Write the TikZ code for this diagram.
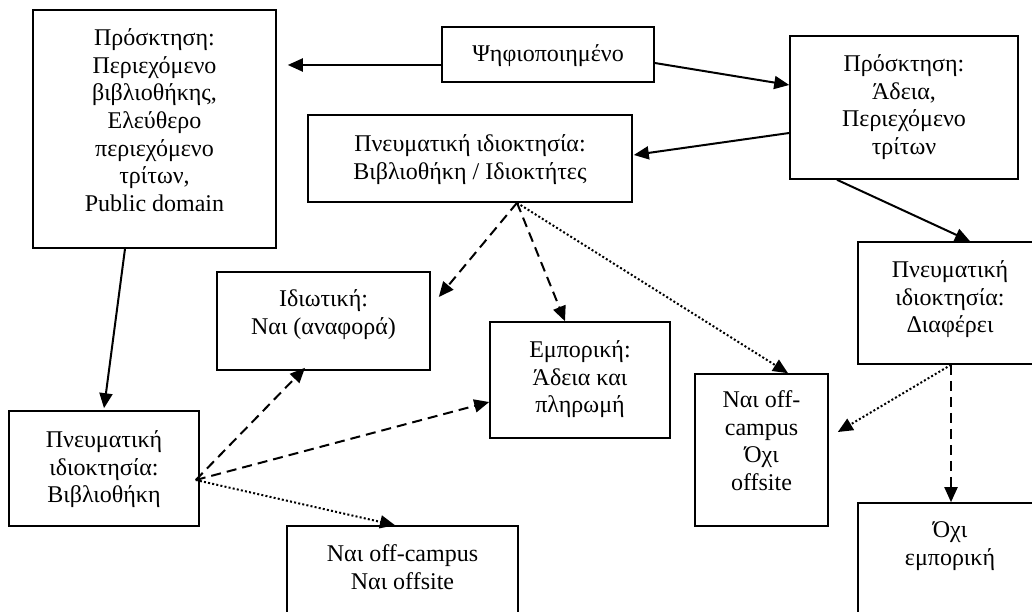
\documentclass[tikz,border=0pt]{standalone}
\usepackage{fontspec}
\setmainfont{Liberation Serif}
\usetikzlibrary{arrows.meta}
\tikzset{
  box/.style={draw, line width=1.6pt, rectangle, inner sep=0pt},
  txt/.style={anchor=north, align=center, inner sep=0pt, font=\fontsize{24pt}{27.6pt}\selectfont},
  conn/.style={line width=2pt, -{Triangle[length=15pt,width=13pt]}},
  dsh/.style={conn, dash pattern=on 10pt off 6pt},
  dot/.style={conn, dash pattern=on 2pt off 2.2pt}
}
\newcommand{\mybox}[5]{% name, x1, y1, x2, y2
  \node[box, minimum width={(#4-#2)*1pt}, minimum height={(#5-#3)*1pt}] (#1) at ({(#2+#4)/2},{(#3+#5)/2}) {};}
\begin{document}
\begin{tikzpicture}[x=1pt,y=-1pt]
\useasboundingbox (0,0) rectangle (1032,612);
\clip (0,0) rectangle (1032,612);
\fill[white] (0,0) rectangle (1032,612);
% boxes
\mybox{A}{33}{10}{276}{248}
\mybox{psi}{442}{27}{654}{82}
\mybox{R}{790}{36}{1018}{179}
\mybox{B}{308}{115}{632}{202}
\mybox{idio}{217}{272}{430}{370}
\mybox{emp}{490}{322}{670}{438}
\mybox{noff}{695}{374}{828}{526}
\mybox{diaf}{858}{242}{1042}{364}
\mybox{ochi}{858}{503}{1042}{660}
\mybox{LB}{9}{411}{199}{526}
\mybox{nai}{287}{526}{518}{660}
% texts
\node[txt] (At) at ([yshift=-17pt]A.north) {\strut Πρόσκτηση:\\Περιεχόμενο\\βιβλιοθήκης,\\Ελεύθερο\\περιεχόμενο\\τρίτων,\\Public domain};
\node[txt] (psit) at ([yshift=-16pt]psi.north) {\strut Ψηφιοποιημένο};
\node[txt] (Rt) at ([yshift=-17pt]R.north) {\strut Πρόσκτηση:\\Άδεια,\\Περιεχόμενο\\τρίτων};
\node[txt] (Bt) at ([yshift=-18pt]B.north) {\strut Πνευματική ιδιοκτησία:\\Βιβλιοθήκη / Ιδιοκτήτες};
\node[txt] (idiot) at ([yshift=-16pt]idio.north) {\strut Ιδιωτική:\\Ναι (αναφορά)};
\node[txt] (empt) at ([yshift=-17pt]emp.north) {\strut Εμπορική:\\Άδεια και\\πληρωμή};
\node[txt] (nofft) at ([yshift=-15pt]noff.north) {\strut Ναι off-\\campus\\Όχι\\offsite};
\node[txt] (diaft) at ([yshift=-17pt]diaf.north) {\strut Πνευματική\\ιδιοκτησία:\\Διαφέρει};
\node[txt] (ochit) at ([yshift=-16pt]ochi.north) {\strut Όχι\\εμπορική};
\node[txt] (LBt) at ([yshift=-18pt]LB.north) {\strut Πνευματική\\ιδιοκτησία:\\Βιβλιοθήκη};
\node[txt] (nait) at ([yshift=-17pt]nai.north) {\strut Ναι off-campus\\Ναι offsite};
% solid connectors
\draw[conn] ([yshift=-10.5pt]psi.west) -- ([xshift=11pt,yshift=64pt]A.east);
\draw[conn] ([yshift=-8.5pt]psi.east) -- ([yshift=22.5pt]R.west);
\draw[conn] ([yshift=-25.5pt]R.west) -- ([xshift=1pt,yshift=3.5pt]B.east);
\draw[conn] ([xshift=-67pt]R.south) -- ([xshift=20pt]diaf.north);
\draw[conn] ([xshift=-29.5pt]A.south) -- ([yshift=2pt]LB.north);
% from B
\coordinate (bs) at ([xshift=47pt]B.south);
\draw[dsh] (bs) -- ([xshift=8pt,yshift=24pt]idio.east);
\draw[dsh] (bs) -- ([xshift=-15pt]emp.north);
\draw[dot] (bs) -- ([xshift=26.5pt]noff.north);
% from LB
\coordinate (ls) at ([xshift=-4pt,yshift=-11.5pt]LB.east);
\draw[dsh] (ls) -- ([xshift=-18.5pt,yshift=3pt]idio.south);
\draw[dsh] (ls) -- ([yshift=-22pt]emp.west);
\draw[dot] (ls) -- ([xshift=-7.5pt]nai.north);
% from diaf
\coordinate (ds) at ([xshift=1pt]diaf.south);
\draw[dot] (ds) -- ([xshift=9pt,yshift=18pt]noff.east);
\draw[dsh] (ds) -- ([xshift=1pt]ochi.north);
\end{tikzpicture}
\end{document}
